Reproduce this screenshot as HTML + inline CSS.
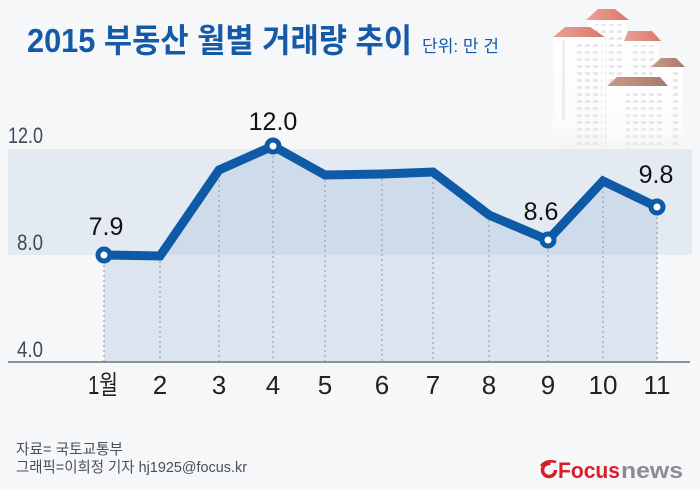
<!DOCTYPE html>
<html><head><meta charset="utf-8"><style>
html,body{margin:0;padding:0;background:#f6f7f9;}
svg{display:block;}
</style></head><body>
<svg width="700" height="490" viewBox="0 0 700 490" xmlns="http://www.w3.org/2000/svg">
<defs>
<linearGradient id="fade" x1="0" y1="0" x2="0" y2="1">
<stop offset="0" stop-color="#ffffff"/>
<stop offset="0.8" stop-color="#fbfbfc"/>
<stop offset="1" stop-color="#f3f4f6"/>
</linearGradient>
<linearGradient id="roofR" x1="0" y1="0" x2="1" y2="0">
<stop offset="0" stop-color="#e9a396"/>
<stop offset="1" stop-color="#d9786a"/>
</linearGradient>
<linearGradient id="roofB" x1="0" y1="0" x2="1" y2="0">
<stop offset="0" stop-color="#c79c8a"/>
<stop offset="1" stop-color="#a9786a"/>
</linearGradient>
<pattern id="win" width="8" height="7" patternUnits="userSpaceOnUse">
<rect x="1" y="2" width="5" height="3" fill="#e8e9ec"/>
</pattern>
</defs>
<rect width="700" height="490" fill="#f6f7f9"/>

<!-- buildings -->
<g>
<rect x="588" y="20" width="39" height="128" fill="url(#fade)"/>
<polygon points="586,20 598,9 615,9 629,20" fill="url(#roofR)"/>
<rect x="595" y="24" width="28" height="120" fill="url(#win)"/>
<rect x="626" y="41" width="33" height="107" fill="url(#fade)"/>
<polygon points="624,41 628,31 652,31 661,41" fill="url(#roofR)"/>
<rect x="630" y="45" width="26" height="100" fill="url(#win)"/>
<rect x="653" y="67" width="30" height="81" fill="url(#fade)"/>
<polygon points="651,67 661,58 676,58 685,67" fill="url(#roofB)"/>
<rect x="672" y="70" width="9" height="75" fill="url(#win)"/>
<rect x="553" y="37" width="52" height="111" fill="url(#fade)"/>
<polygon points="553,37 565,27 590,27 605,37" fill="url(#roofR)"/>
<rect x="576" y="40" width="26" height="106" fill="url(#win)"/>
<rect x="562" y="40" width="3" height="80" fill="#eceef0"/>
<rect x="607" y="86" width="60" height="62" fill="url(#fade)"/>
<polygon points="607,86 617,77 660,77 668,86" fill="url(#roofB)"/>
<rect x="626" y="89" width="38" height="57" fill="url(#win)"/>
</g>

<!-- title -->
<text x="27" y="52" font-family="'Liberation Sans','Noto Sans CJK KR',sans-serif" font-weight="bold" font-size="33" fill="#1559a7" textLength="385" lengthAdjust="spacingAndGlyphs">2015 부동산 월별 거래량 추이</text>
<text x="422" y="52" font-family="'Liberation Sans','Noto Sans CJK KR',sans-serif" font-size="17" fill="#1559a7" textLength="77" lengthAdjust="spacingAndGlyphs">단위: 만 건</text>

<!-- band -->
<rect x="8" y="149" width="684" height="106" fill="#e3eaf2"/>

<!-- area -->
<polygon points="104,255 160,256 219,170 273,146 325,175 382,174 433,172 489,215 548,240 603,181 657,207 657,362 104,362" fill="rgba(151,181,214,0.27)"/>

<!-- dashed lines -->
<g stroke="#9aa3ad" stroke-width="1.2" stroke-dasharray="2,3">
<line x1="104" y1="255" x2="104" y2="362"/>
<line x1="160" y1="256" x2="160" y2="362"/>
<line x1="219" y1="170" x2="219" y2="362"/>
<line x1="273" y1="146" x2="273" y2="362"/>
<line x1="325" y1="175" x2="325" y2="362"/>
<line x1="382" y1="174" x2="382" y2="362"/>
<line x1="433" y1="172" x2="433" y2="362"/>
<line x1="489" y1="215" x2="489" y2="362"/>
<line x1="548" y1="240" x2="548" y2="362"/>
<line x1="603" y1="181" x2="603" y2="362"/>
<line x1="657" y1="207" x2="657" y2="362"/>
</g>

<!-- axis -->
<line x1="8" y1="362" x2="690" y2="362" stroke="#8a929c" stroke-width="2"/>

<!-- y labels -->
<g font-family="'Liberation Sans',sans-serif" font-size="22" fill="#3b4a5c">
<text x="8" y="143" textLength="35" lengthAdjust="spacingAndGlyphs">12.0</text>
<text x="17" y="250" textLength="26" lengthAdjust="spacingAndGlyphs">8.0</text>
<text x="17" y="357" textLength="26" lengthAdjust="spacingAndGlyphs">4.0</text>
</g>

<!-- line -->
<polyline points="104,255 160,256 219,170 273,146 325,175 382,174 433,172 489,215 548,240 603,181 657,207" fill="none" stroke="#0f5aa6" stroke-width="9" stroke-linejoin="miter" stroke-linecap="butt"/>
<g fill="#ffffff" stroke="#0f5aa6" stroke-width="5">
<circle cx="104" cy="255" r="6"/>
<circle cx="273" cy="146" r="6"/>
<circle cx="548" cy="240" r="6"/>
<circle cx="657" cy="207" r="6"/>
</g>

<!-- value labels -->
<g font-family="'Liberation Sans',sans-serif" font-size="25" fill="#111" text-anchor="middle">
<text x="106" y="235">7.9</text>
<text x="273" y="130">12.0</text>
<text x="541" y="220">8.6</text>
<text x="656" y="183">9.8</text>
</g>

<!-- x labels -->
<g font-family="'Liberation Sans','Noto Sans CJK KR',sans-serif" font-size="26" fill="#222" text-anchor="middle">
<text x="103" y="394" textLength="30" lengthAdjust="spacingAndGlyphs">1월</text>
<text x="160" y="394">2</text>
<text x="219" y="394">3</text>
<text x="273" y="394">4</text>
<text x="325" y="394">5</text>
<text x="382" y="394">6</text>
<text x="433" y="394">7</text>
<text x="489" y="394">8</text>
<text x="548" y="394">9</text>
<text x="603" y="394" textLength="29" lengthAdjust="spacingAndGlyphs">10</text>
<text x="657" y="394" textLength="27" lengthAdjust="spacingAndGlyphs">11</text>
</g>

<!-- footer -->
<g font-family="'Liberation Sans','Noto Sans CJK KR',sans-serif" font-size="15" fill="#4a5058">
<text x="16" y="454" textLength="107" lengthAdjust="spacingAndGlyphs">자료= 국토교통부</text>
<text x="16" y="472" textLength="231" lengthAdjust="spacingAndGlyphs">그래픽=이희정 기자 hj1925@focus.kr</text>
</g>

<!-- logo -->
<g>
<circle cx="549" cy="470" r="6.5" fill="none" stroke="#d71f2b" stroke-width="3.5" stroke-dasharray="32,9"/>
<path d="M541,466 Q546,459 556,462" fill="none" stroke="#d71f2b" stroke-width="2.5"/>
<text x="558" y="478" font-family="'Liberation Sans',sans-serif" font-weight="bold" font-size="22" fill="#d71f2b" textLength="62" lengthAdjust="spacingAndGlyphs">Focus</text>
<text x="621" y="478" font-family="'Liberation Sans',sans-serif" font-weight="bold" font-size="22" fill="#8a8c8f" textLength="62" lengthAdjust="spacingAndGlyphs">news</text>
</g>
</svg>
</body></html>
